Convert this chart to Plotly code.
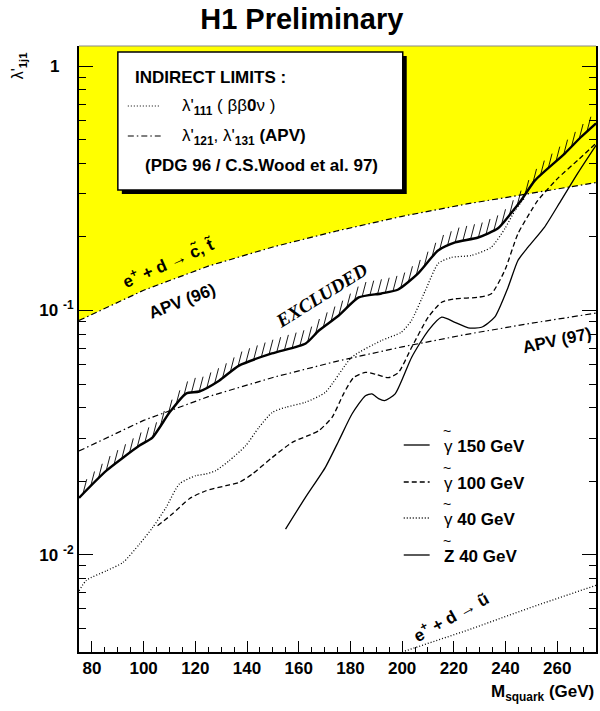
import math
import numpy as np
import plotly.graph_objects as go

# ---------------- data ----------------
# thick solid curve: Z~ 40 GeV (boundary of the hatched excluded region)
m_z40 = [75.0, 85.6, 98.4, 103.4, 110.0, 116.4, 121.5, 129.2, 136.9, 149.6, 162.7, 167.8,
         175.5, 183.2, 192.0, 198.5, 206.2, 213.9, 220.5, 229.4, 237.1, 242.1, 246.0,
         251.4, 263.0, 269.1, 275.0]
l_z40 = [0.0171, 0.0221, 0.0280, 0.0302, 0.0382, 0.0457, 0.0466, 0.0516, 0.0595, 0.0667,
         0.0733, 0.0828, 0.0954, 0.1131, 0.1174, 0.1219, 0.142, 0.176, 0.190, 0.199,
         0.217, 0.250, 0.282, 0.341, 0.440, 0.512, 0.584]

# thin solid: photino 150 GeV
m_g150 = [154.9, 162.6, 170.3, 175.5, 180.6, 185.8, 188.3, 190.9, 193.2, 197.3, 203.7,
          210.1, 215.3, 220.4, 225.6, 230.7, 235.8, 241.0, 244.8, 248.7, 255.1, 261.5,
          267.9, 275.0]
l_g150 = [0.01274, 0.01718, 0.0228, 0.0293, 0.0377, 0.0448, 0.0456, 0.0436, 0.0428,
          0.0456, 0.0644, 0.0828, 0.0939, 0.0895, 0.0849, 0.0854, 0.0939, 0.1246,
          0.1603, 0.1817, 0.2195, 0.2823, 0.3642, 0.4745]

# dashed: photino 100 GeV
m_g100 = [105.4, 111.2, 117.7, 124.1, 131.8, 136.9, 142.1, 149.8, 157.5, 165.2, 167.8,
          172.9, 177.4, 181.2, 185.8, 190.1, 194.7, 198.6, 203.7, 210.1, 215.3, 220.4,
          229.4, 234.5, 239.7, 244.8, 250.0, 252.5, 260.2, 267.9, 275.0]
l_g100 = [0.01315, 0.01472, 0.01697, 0.01829, 0.01918, 0.01978, 0.02142, 0.02505,
          0.02886, 0.03124, 0.03222, 0.03652, 0.0457, 0.0531, 0.0558, 0.0547, 0.0531,
          0.0558, 0.0707, 0.0939, 0.1081, 0.1116, 0.1133, 0.1171, 0.1459, 0.2062,
          0.2570, 0.2823, 0.3475, 0.4119, 0.4835]

# dotted: photino 40 GeV
m_g40 = [75.0, 77.9, 85.6, 92.0, 98.4, 103.5, 108.7, 113.8, 120.2, 124.1, 127.9, 133.1,
         139.5, 144.6, 149.8, 154.9, 162.6, 170.3, 180.5, 192.0, 199.7, 203.6, 209.0,
         214.0, 219.0, 226.7, 234.4, 239.8, 243.7, 247.5]
l_g40 = [0.00712, 0.00787, 0.00860, 0.00930, 0.01106, 0.01294, 0.01563, 0.01949,
         0.02108, 0.02142, 0.02210, 0.02428, 0.02797, 0.03323, 0.03829, 0.04015,
         0.04209, 0.04625, 0.06435, 0.07534, 0.08149, 0.09099, 0.1208, 0.1559,
         0.1649, 0.1680, 0.1813, 0.2169, 0.2570, 0.2904]

# indirect limits
m_apv = [75, 100, 125, 150, 175, 200, 225, 250, 275]
l_apv96 = [0.091, 0.121, 0.152, 0.182, 0.212, 0.243, 0.273, 0.303, 0.334]
l_apv97 = [0.0266, 0.0355, 0.0444, 0.0532, 0.0621, 0.0710, 0.0799, 0.0887, 0.0976]
m_bb0n = [200, 225, 250, 275]
l_bb0n = [0.0040, 0.0049, 0.0061, 0.0075]

x_ticks = [80, 100, 120, 140, 160, 180, 200, 220, 240, 260]
y_ticks = [0.01, 0.1, 1]
y_ticktext = ["<b>10</b> <sup><b>-2</b></sup>", "<b>10</b> <sup><b>-1</b></sup>",
              "<b>1</b>\u00a0\u00a0\u00a0"]

# ---------------- layout helpers ----------------
W, H = 600, 711
ML, MR, MT, MB = 79, 2, 46, 59
PW, PH = W - ML - MR, H - MT - MB


def px(x):
    return (x - ML) / PW


def py(y):
    return (H - MB - y) / PH


FONT = "Liberation Sans, Arial, sans-serif"
DOT = "1px,2px"
DASH = "5px,3px"
DASHDOT = "6px,3px,1.5px,3px"
SPL = dict(shape="spline", smoothing=0.6)

fig = go.Figure()

# yellow indirect-limit region above APV(96)
fig.add_trace(go.Scatter(x=[m_apv[0], m_apv[-1]], y=[5, 5], mode="lines",
                         line=dict(width=0), showlegend=False, hoverinfo="skip"))
fig.add_trace(go.Scatter(x=m_apv, y=l_apv96, mode="lines", fill="tonexty",
                         fillcolor="#ffff00",
                         line=dict(color="black", width=1.2, dash=DASHDOT),
                         showlegend=False))

# APV(97)
fig.add_trace(go.Scatter(x=m_apv, y=l_apv97, mode="lines",
                         line=dict(color="black", width=1.2, dash=DASHDOT), showlegend=False))
# beta beta 0 nu
fig.add_trace(go.Scatter(x=m_bb0n, y=l_bb0n, mode="lines",
                         line=dict(color="black", width=1.3, dash=DOT), showlegend=False))

# hatching on the excluded side of the thick curve (short tilted strokes)
hx, hy = [], []
log_z = np.log10(l_z40)
for m in np.arange(76.5, 273.0, 3.0):
    base = 10 ** np.interp(m, m_z40, log_z)
    hx += [m, m + 1.5, None]
    hy += [base, base * 1.15, None]
fig.add_trace(go.Scatter(x=hx, y=hy, mode="lines", line=dict(color="black", width=0.9),
                         showlegend=False, hoverinfo="skip", connectgaps=False))

# limit curves
fig.add_trace(go.Scatter(x=m_g40, y=l_g40, mode="lines",
                         line=dict(color="black", width=1.3, dash=DOT, **SPL), showlegend=False))
fig.add_trace(go.Scatter(x=m_g100, y=l_g100, mode="lines",
                         line=dict(color="black", width=1.3, dash=DASH, **SPL), showlegend=False))
fig.add_trace(go.Scatter(x=m_g150, y=l_g150, mode="lines",
                         line=dict(color="black", width=1.3, **SPL), showlegend=False))
fig.add_trace(go.Scatter(x=m_z40, y=l_z40, mode="lines",
                         line=dict(color="black", width=2.4, **SPL), showlegend=False))

ann = []


def text(t, x, y, size=17, angle=0, xanchor="center", family=FONT, color="black"):
    ann.append(dict(text=t, x=px(x), y=py(y), xref="paper", yref="paper", showarrow=False,
                    textangle=angle, xanchor=xanchor, yanchor="middle",
                    font=dict(family=family, size=size, color=color)))


# curve labels
text("<b>e<sup>+</sup> + d → c\u0303, t\u0303</b>", 168, 262, angle=-24)
text("<b>APV (96)</b>", 182, 301, angle=-21)
text("<b><i>EXCLUDED</i></b>", 322, 295, size=19, angle=-32,
     family="Liberation Serif, Times New Roman, serif")
text("<b>APV (97)</b>", 559, 340, angle=-12)
text("<b>e<sup>+</sup> + d → \u0169</b>", 452, 616, angle=-29)

# axis titles
text("λ'<sub><b>1j1</b></sub>", 19, 66, size=16, angle=-90)
text("<b>M<sub>squark</sub> (GeV)</b>", 598, 693, xanchor="right")

shapes = []

# indirect limits box with shadow
bx0, bx1, by0, by1 = 118, 404, 52, 190
shapes.append(dict(type="rect", xref="paper", yref="paper", x0=px(bx0 + 4), x1=px(bx1 + 4),
                   y0=py(by1 + 4), y1=py(by0 + 4), fillcolor="black", line=dict(width=0)))
shapes.append(dict(type="rect", xref="paper", yref="paper", x0=px(bx0), x1=px(bx1),
                   y0=py(by1), y1=py(by0), fillcolor="white", line=dict(color="black", width=1.5)))
text("<b>INDIRECT LIMITS :</b>", 133, 77, xanchor="left")
shapes.append(dict(type="line", xref="paper", yref="paper", x0=px(128), x1=px(161),
                   y0=py(106), y1=py(106), line=dict(color="black", width=1.2, dash=DOT)))
text("λ'<sub><b>111</b></sub> ( ββ<b>0</b>ν )", 180, 107, xanchor="left")
shapes.append(dict(type="line", xref="paper", yref="paper", x0=px(128), x1=px(161),
                   y0=py(136), y1=py(136), line=dict(color="black", width=1.2, dash=DASHDOT)))
text("λ'<sub><b>121</b></sub>, λ'<sub><b>131</b></sub> <b>(APV)</b>", 180, 137, xanchor="left")
text("<b>(PDG 96 / C.S.Wood et al. 97)</b>", 143, 166, xanchor="left")

# curve legend (bottom right)
leg = [("γ", "<b>150 GeV</b>", None, 445),
       ("γ", "<b>100 GeV</b>", DASH, 482),
       ("γ", "<b>40 GeV</b>", DOT, 518),
       ("<b>Z</b>", "<b>40 GeV</b>", None, 555)]
for sym, lab, dash, yy in leg:
    ln = dict(color="black", width=1.3)
    if dash:
        ln["dash"] = dash
    shapes.append(dict(type="line", xref="paper", yref="paper", x0=px(405), x1=px(431),
                       y0=py(yy), y1=py(yy), line=ln))
    text(sym + " " + lab, 443, yy + 1, xanchor="left")
    text("~", 448.5, yy - 14, size=14)

# thin top frame line
shapes.append(dict(type="line", xref="paper", yref="paper", x0=0, x1=1, y0=1, y1=1,
                   line=dict(color="#888888", width=1)))

minor_y = [d * 10 ** e for e in (-3, -2, -1, 0) for d in range(2, 10)]

fig.update_layout(
    width=W, height=H,
    margin=dict(l=ML, r=MR, t=MT, b=MB),
    paper_bgcolor="white", plot_bgcolor="white",
    showlegend=False,
    title=dict(text="<b>H1 Preliminary</b>", x=0.503, xanchor="center", y=1 - 19 / H,
               yanchor="middle", font=dict(family=FONT, size=29, color="black")),
    annotations=ann,
    shapes=shapes,
    xaxis=dict(range=[75, 275], tickmode="array", tickvals=x_ticks,
               ticktext=["<b>%d</b>" % v for v in x_ticks],
               ticks="inside", ticklen=11, tickwidth=1.3, tickcolor="black",
               minor=dict(ticks="inside", dtick=5, tick0=0, ticklen=5.5, tickwidth=1.2,
                          tickcolor="black", showgrid=False),
               showline=True, linecolor="black", linewidth=2, mirror=False,
               showgrid=False, zeroline=False,
               tickfont=dict(family=FONT, size=17, color="black")),
    yaxis=dict(type="log", range=[math.log10(0.004), math.log10(1.21)],
               tickmode="array", tickvals=y_ticks, ticktext=y_ticktext,
               ticks="inside", ticklen=14, tickwidth=1.3, tickcolor="black",
               minor=dict(ticks="inside", tickmode="array", tickvals=minor_y, ticklen=7,
                          tickwidth=1.2, tickcolor="black", showgrid=False),
               showline=True, linecolor="black", linewidth=2, mirror="allticks",
               showgrid=False, zeroline=False,
               tickfont=dict(family=FONT, size=17, color="black")),
)

fig.write_html("out.html", config={"displayModeBar": False},
               post_script="document.body.style.margin='0px';document.body.style.overflow='hidden';")
